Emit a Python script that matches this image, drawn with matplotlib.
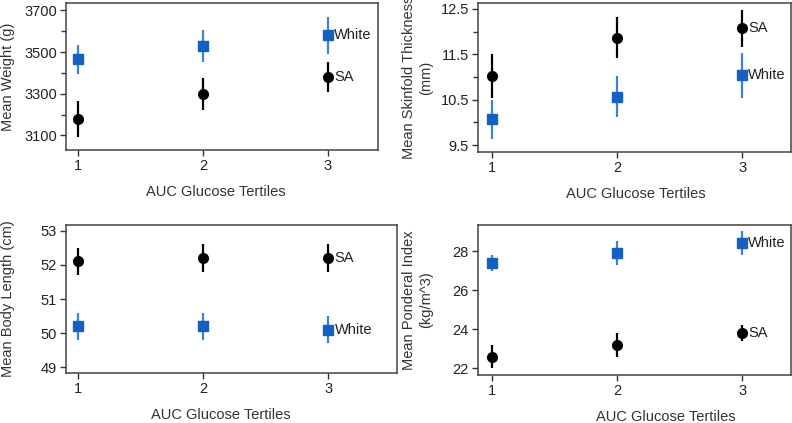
import matplotlib
matplotlib.use('Agg')
import matplotlib.pyplot as plt
from matplotlib.ticker import MultipleLocator

plt.rcParams['font.family'] = ['Liberation Sans', 'DejaVu Sans']

tertiles = [1, 2, 3]
xlabel = 'AUC Glucose Tertiles'

# mean weight (g)
weight_white = [3465, 3530, 3580]
weight_white_err = [70, 77, 88]
weight_sa = [3180, 3297, 3380]
weight_sa_err = [87, 76, 72]

# mean skinfold thickness (mm)
skin_white = [10.07, 10.57, 11.04]
skin_white_err = [0.43, 0.45, 0.5]
skin_sa = [11.02, 11.87, 12.07]
skin_sa_err = [0.48, 0.45, 0.4]

# mean body length (cm)
length_white = [50.2, 50.2, 50.1]
length_white_err = [0.4, 0.4, 0.4]
length_sa = [52.1, 52.2, 52.2]
length_sa_err = [0.4, 0.4, 0.4]

# mean ponderal index (kg/m^3)
pi_white = [27.4, 27.9, 28.4]
pi_white_err = [0.4, 0.6, 0.6]
pi_sa = [22.6, 23.2, 23.8]
pi_sa_err = [0.6, 0.6, 0.4]

W, H = 792, 423
blue = '#1560c0'
blue_err = '#3a82d6'


def add_panel(fig, box, xlim, ylim, yticks, minor, ylabel, ylab_x, xlab_x,
              white, white_err, sa, sa_err):
    left, top, right, bottom = box
    w = right - left
    h = bottom - top
    ax = fig.add_axes([left / W, 1 - bottom / H, w / W, h / H])
    ax.errorbar(tertiles, white, yerr=white_err, fmt='s', color=blue, ecolor=blue_err,
                elinewidth=1.6, capsize=0, markersize=6.5, zorder=3)
    ax.errorbar(tertiles, sa, yerr=sa_err, fmt='o', color='black', ecolor='black',
                elinewidth=1.6, capsize=0, markersize=7, zorder=3)
    ax.annotate('White', (tertiles[-1], white[-1]), xytext=(4.5, 0), textcoords='offset points',
                va='center', ha='left', fontsize=10.5, color='#222222')
    ax.annotate('SA', (tertiles[-1], sa[-1]), xytext=(4.5, 0), textcoords='offset points',
                va='center', ha='left', fontsize=10.5, color='#222222')
    ax.set_xlim(*xlim)
    ax.set_ylim(*ylim)
    ax.set_xticks(tertiles)
    ax.set_yticks(yticks)
    if minor:
        ax.yaxis.set_minor_locator(MultipleLocator(minor))
    ax.tick_params(axis='both', which='major', direction='out', length=4.5, width=1,
                   labelsize=10.5, colors='#333333', labelcolor='#222222', pad=2)
    ax.tick_params(axis='y', which='minor', direction='out', length=3.5, width=1, colors='#333333')
    for s in ax.spines.values():
        s.set_color('#444444')
        s.set_linewidth(1.1)
    ax.set_xlabel(xlabel, fontsize=10.5, color='#333333')
    ax.set_ylabel(ylabel, fontsize=10.5, color='#333333', linespacing=1.25)
    ax.xaxis.set_label_coords((xlab_x - left) / w, -35 / h)
    ax.yaxis.set_label_coords((ylab_x - left) / w, 0.5)
    return ax


fig = plt.figure(figsize=(7.92, 4.23), dpi=100)

add_panel(fig, (66, 3, 378, 150), (0.904, 3.4), (3030, 3735), [3100, 3300, 3500, 3700], 100,
          'Mean Weight (g)', 15, 216, weight_white, weight_white_err, weight_sa, weight_sa_err)
add_panel(fig, (478, 3, 791, 152), (0.89, 3.39), (9.35, 12.63), [9.5, 10.5, 11.5, 12.5], 0.5,
          'Mean Skinfold Thickness\n(mm)', 433, 636, skin_white, skin_white_err, skin_sa, skin_sa_err)
add_panel(fig, (66, 225, 397, 373), (0.904, 3.55), (48.83, 53.17), [49, 50, 51, 52, 53], None,
          'Mean Body Length (cm)', 15, 221, length_white, length_white_err, length_sa, length_sa_err)
add_panel(fig, (478, 225, 791, 375), (0.89, 3.39), (21.66, 29.33), [22, 24, 26, 28], None,
          'Mean Ponderal Index\n(kg/m^3)', 433, 666, pi_white, pi_white_err, pi_sa, pi_sa_err)

fig.savefig('out.png', dpi=100)
